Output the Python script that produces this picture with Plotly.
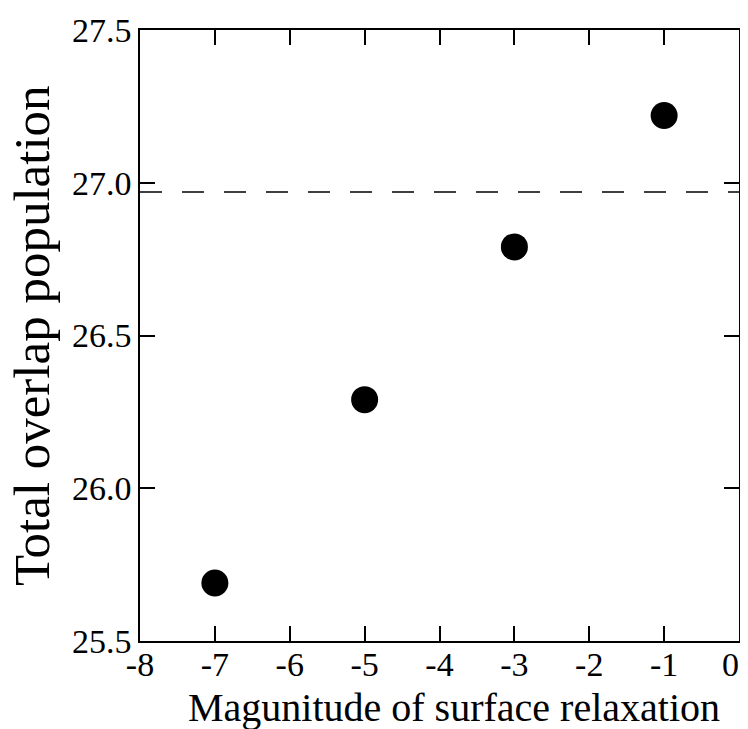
import plotly.graph_objects as go

x_vals = [-7, -5, -3, -1]
y_vals = [25.69, 26.29, 26.79, 27.22]
ref_level = 26.97
x_ticks = [-8, -7, -6, -5, -4, -3, -2, -1, 0]
x_ticktext = ["-8", "-7", "-6", "-5", "-4", "-3", "-2", "-1", "0\u2002"]
y_ticks = [25.5, 26.0, 26.5, 27.0, 27.5]
y_ticktext = ["25.5", "26.0", "26.5", "27.0", "27.5"]

font_family = "Liberation Serif, Times New Roman, serif"

fig = go.Figure()
fig.add_trace(go.Scatter(
    x=[-8, 0], y=[ref_level, ref_level], mode="lines",
    line=dict(color="black", width=1.5, dash="22px,20px"),
    showlegend=False, hoverinfo="skip"))
fig.add_trace(go.Scatter(
    x=x_vals, y=y_vals, mode="markers",
    marker=dict(color="black", size=27),
    showlegend=False))

fig.update_layout(
    width=740, height=721,
    margin=dict(l=132, r=9, t=22, b=88),
    paper_bgcolor="white", plot_bgcolor="white",
    font=dict(family=font_family, color="black", size=34),
    xaxis=dict(
        range=[-8, 0], tickvals=x_ticks, ticktext=x_ticktext,
        ticks="inside", ticklen=15, tickwidth=1.5, tickcolor="black",
        showline=True, linecolor="black", linewidth=1.5, mirror="ticks",
        showgrid=False, zeroline=False, automargin=False,
        tickfont=dict(size=34, family=font_family),
        ticklabeloverflow="allow", ticklabelstandoff=-8,
    ),
    yaxis=dict(
        range=[25.5, 27.5], tickvals=y_ticks, ticktext=y_ticktext,
        ticks="inside", ticklen=15, tickwidth=1.5, tickcolor="black",
        showline=True, linecolor="black", linewidth=1.5, mirror="ticks",
        showgrid=False, zeroline=False, automargin=False,
        tickfont=dict(size=34, family=font_family),
    ),
    annotations=[
        dict(text="Magunitude of surface relaxation", xref="paper", yref="paper",
             x=0.524, y=-0.068, xanchor="center", yanchor="top", showarrow=False,
             font=dict(size=40, family=font_family, color="black")),
        dict(text="Total overlap population", xref="paper", yref="paper",
             x=-0.181, y=0.5, xanchor="center", yanchor="middle", showarrow=False,
             textangle=-90,
             font=dict(size=51, family=font_family, color="black")),
    ],
)

fig.write_html("out.html")
